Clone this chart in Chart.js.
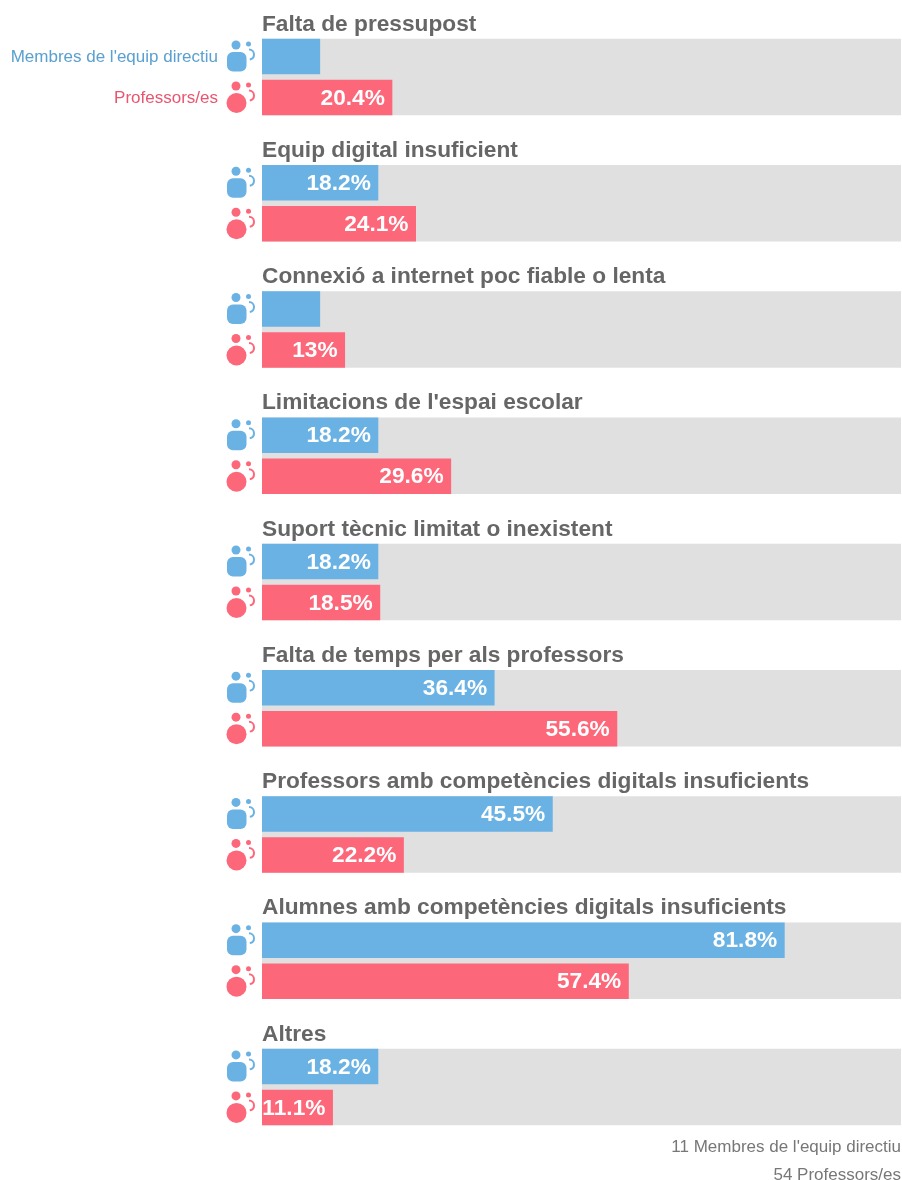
<!DOCTYPE html>
<html>
<head>
<meta charset="utf-8">
<script src="https://cdn.jsdelivr.net/npm/chart.js@4"></script>
<style>
	html, body { margin: 0; padding: 0; background: #fff; overflow: hidden; }
	canvas { display: block; }
</style>
</head>
<body>
<canvas id="bars" width="902" height="1180"></canvas>
<script>
const categories = [
	"Falta de pressupost",
	"Equip digital insuficient",
	"Connexió a internet poc fiable o lenta",
	"Limitacions de l'espai escolar",
	"Suport tècnic limitat o inexistent",
	"Falta de temps per als professors",
	"Professors amb competències digitals insuficients",
	"Alumnes amb competències digitals insuficients",
	"Altres"
];
const directiu = [9.1, 18.2, 9.1, 18.2, 18.2, 36.4, 45.5, 81.8, 18.2];
const professors = [20.4, 24.1, 13, 29.6, 18.5, 55.6, 22.2, 57.4, 11.1];
const fons = [100, 100, 100, 100, 100, 100, 100, 100, 100];
const legendNames = ["Membres de l'equip directiu", "Professors/es"];
const footerLines = ["11 Membres de l'equip directiu", "54 Professors/es"];

const FONT = '"Liberation Sans", Arial, sans-serif';
const BLUE = '#6ab2e4';
const PINK = '#fd677a';
const MIN_LABEL = 10; // the 9.1% bars carry no label

function drawIcon(ctx, x, y, color, round) {
	ctx.fillStyle = color;
	ctx.strokeStyle = color;
	ctx.lineWidth = 2;
	ctx.beginPath();
	ctx.arc(x - 1, y - 11.5, 4.5, 0, Math.PI * 2);
	ctx.fill();
	ctx.beginPath();
	ctx.arc(x + 11.5, y - 12.5, 2.5, 0, Math.PI * 2);
	ctx.fill();
	ctx.beginPath();
	if (round) {
		ctx.arc(x - 0.5, y + 5.5, 10, 0, Math.PI * 2);
	} else {
		ctx.roundRect(x - 10, y - 4.5, 19.5, 19.5, 6);
	}
	ctx.fill();
	ctx.beginPath();
	ctx.arc(x + 12, y - 2, 5, -Math.PI * 0.5, Math.PI * 0.45);
	ctx.stroke();
}

const extras = {
	id: 'extras',
	afterDatasetsDraw(chart) {
		const ctx = chart.ctx;
		ctx.save();
		ctx.textBaseline = 'middle';

		[1, 2].forEach(function (di) {
			const color = di === 1 ? BLUE : PINK;
			const values = di === 1 ? directiu : professors;
			chart.getDatasetMeta(di).data.forEach(function (bar, i) {
				drawIcon(ctx, 237, bar.y, color, di === 2);
				if (values[i] >= MIN_LABEL) {
					ctx.font = 'bold 22.7px ' + FONT;
					ctx.fillStyle = '#fff';
					ctx.textAlign = 'right';
					ctx.fillText(values[i] + '%', bar.x - 7.5, bar.y + 1);
				}
			});
			// legend text next to the first group only
			ctx.font = '17px ' + FONT;
			ctx.fillStyle = di === 1 ? '#5aa0d0' : '#e8566f';
			ctx.textAlign = 'right';
			ctx.fillText(legendNames[di - 1], 218, chart.getDatasetMeta(di).data[0].y + 1);
		});

		ctx.font = '17px ' + FONT;
		ctx.fillStyle = '#777';
		ctx.textAlign = 'right';
		ctx.fillText(footerLines[0], 901, 1147);
		ctx.fillText(footerLines[1], 901, 1175);
		ctx.restore();
	}
};

const chart = new Chart(document.getElementById('bars').getContext('2d'), {
	type: 'bar',
	data: {
		labels: categories,
		datasets: [{
			data: fons,
			backgroundColor: '#e0e0e0',
			grouped: false,
			order: 2,
			barPercentage: 1,
			categoryPercentage: 0.606
		}, {
			data: directiu,
			backgroundColor: BLUE,
			order: 1,
			barPercentage: 0.866,
			categoryPercentage: 0.6495
		}, {
			data: professors,
			backgroundColor: PINK,
			order: 1,
			barPercentage: 0.866,
			categoryPercentage: 0.6495
		}]
	},
	options: {
		indexAxis: 'y',
		responsive: false,
		animation: false,
		layout: { padding: { left: 254, right: 1, top: 13.9, bottom: 30 } },
		plugins: {
			legend: { display: false },
			tooltip: { enabled: false }
		},
		scales: {
			x: { display: false, min: 0, max: 100 },
			y: {
				border: { display: false },
				grid: { display: false },
				ticks: {
					mirror: true,
					padding: 0,
					autoSkip: false,
					labelOffset: -52.5,
					color: '#666',
					font: { family: FONT, size: 22.7, weight: 'bold' }
				}
			}
		}
	},
	plugins: [extras]
});
</script>
</body>
</html>
